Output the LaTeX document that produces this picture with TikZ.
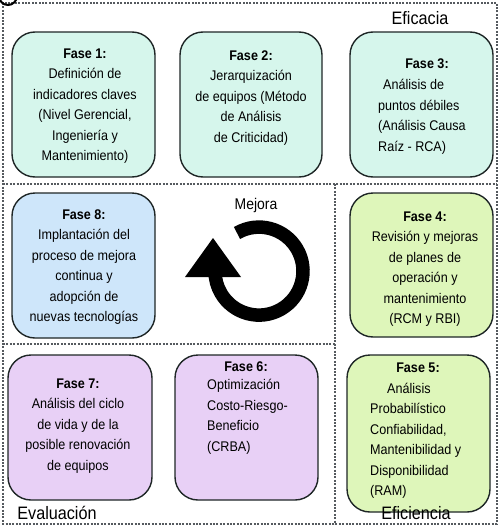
\documentclass[tikz,border=0pt]{standalone}
\usepackage{fontspec}
\setmainfont{Liberation Sans}[FakeStretch=0.9]
\usetikzlibrary{fit}
\definecolor{cyanF}{RGB}{214,246,236}
\definecolor{blueF}{RGB}{206,230,250}
\definecolor{greenF}{RGB}{222,246,186}
\definecolor{purpleF}{RGB}{232,208,246}
\definecolor{edgeC}{RGB}{30,38,38}
\definecolor{dashC}{RGB}{85,90,95}
\begin{document}
\begin{tikzpicture}[x=1pt,y=-1pt,
  box/.style={draw=edgeC, line width=1.4pt, rounded corners=23pt, inner sep=0pt},
  txt/.style={align=center, inner sep=0pt, font=\fontsize{14}{20.5}\selectfont},
  txtl/.style={align=left, inner sep=0pt, anchor=west, font=\fontsize{14}{20.5}\selectfont},
  hdr/.style={inner sep=0pt, font=\fontsize{14}{20.5}\selectfont\bfseries},
  zone/.style={inner sep=0pt, font=\fontsize{18}{20}\selectfont},
  divider/.style={draw=dashC, line width=1.2pt, dash pattern=on 2pt off 1.4pt}]
\useasboundingbox (0,0) rectangle (500,530);
% region dividers
\draw[divider] (3,3) rectangle (497,524);
\draw[divider] (3,184) -- (497,184);
\draw[divider] (335,184) -- (335,524);
\draw[divider] (3,344) -- (335,344);
% partial mark at top-left corner
\draw[line width=2pt] (-1,-4) arc[start angle=180, end angle=360, radius=9pt];
% boxes
\node[box, fill=cyanF, fit={(12,32) (155,177)}] (b1) {};
\node[box, fill=cyanF, fit={(180,32) (322,177)}] (b2) {};
\node[box, fill=cyanF, fit={(350,32) (493,177)}] (b3) {};
\node[box, fill=blueF, fit={(12,193) (155,338)}] (b8) {};
\node[box, fill=greenF, fit={(350,193) (493,337)}] (b4) {};
\node[box, fill=purpleF, fit={(8,355) (152,500)}] (b7) {};
\node[box, fill=purpleF, fit={(175,355) (318,500)}] (b6) {};
\node[box, fill=greenF, fit={(347,355) (490,512)}] (b5) {};
% texts
\node[txt] (t1) at (85,106) {\textbf{Fase 1:}\\Definición de\\indicadores claves\\(Nivel Gerencial,\\Ingeniería y\\Mantenimiento)};
\node[txt] (t2) at (251,98) {\textbf{Fase 2:}\\Jerarquización\\de equipos (Método\\de Análisis\\de Criticidad)};
\node[hdr] (h3) at (427,64) {Fase 3:};
\node[txtl] (t3) at (378,117) {\hspace{5pt}Análisis de\\puntos débiles\\(Análisis Causa\\Raíz - RCA)};
\node[txt] (t8) at (84,267) {\textbf{Fase 8:}\\Implantación del\\proceso de mejora\\continua y\\adopción de\\nuevas tecnologías};
\node[txt] (t4) at (425,269) {\textbf{Fase 4:}\\Revisión y mejoras\\de planes de\\operación y\\mantenimiento\\(RCM y RBI)};
\node[txt] (t7) at (78,426) {\textbf{Fase 7:}\\Análisis del ciclo\\de vida y de la\\posible renovación\\de equipos};
\node[hdr] (h6) at (246,367) {Fase 6:};
\node[txtl] (t6) at (207,417) {Optimización\\Costo-Riesgo-\\Beneficio\\(CRBA)};
\node[hdr] (h5) at (418,368) {Fase 5:};
\node[txtl] (t5) at (370,441) {\hspace{17pt}Análisis\\Probabilístico\\Confiabilidad,\\Mantenibilidad y\\Disponibilidad\\(RAM)};
% zone labels
\node[zone] (eficacia) at (420,18) {Eficacia};
\node[zone] (evaluacion) at (57,513) {Evaluación};
\node[zone] (eficiencia) at (416,513) {Eficiencia};
\node[inner sep=0pt, font=\fontsize{15.5}{18}\selectfont] (mejora) at (256,205) {Mejora};
% circular arrow
\draw[line width=13.5pt] (237,233) arc[start angle=120, end angle=-180, radius=44pt];
\fill (213,238) -- (241,277) -- (185,277) -- cycle;
\end{tikzpicture}
\end{document}
